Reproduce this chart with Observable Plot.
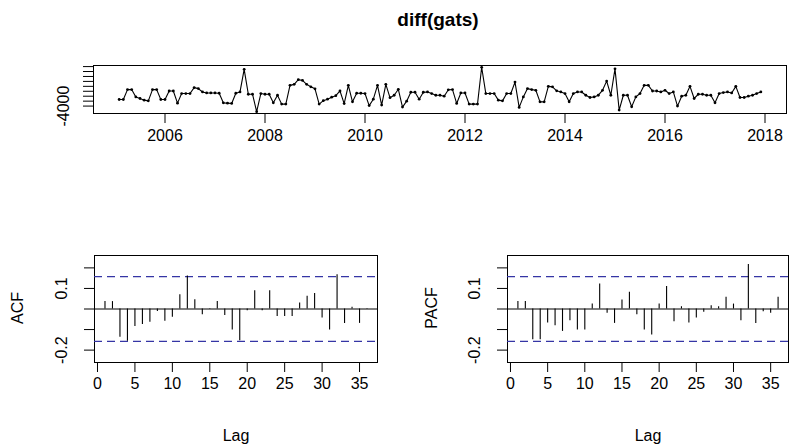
<!DOCTYPE html>
<html><head><meta charset="utf-8">
<script src="https://cdn.jsdelivr.net/npm/d3@7"></script>
<script src="https://cdn.jsdelivr.net/npm/@observablehq/plot@0.6"></script>
<style>
body{margin:0;background:#fff;}
#wrap{position:relative;width:789px;height:448px;overflow:hidden;font-family:"Liberation Sans",Arial,sans-serif;color:#000;}
#wrap > svg, #wrap > figure{position:absolute;margin:0;}
.lbl{position:absolute;font-size:16px;white-space:nowrap;line-height:1;}
</style></head><body><div id="wrap"></div>
<script>
// ---- data ----
const title = "diff(gats)";
const startYear = 2005, startMonth = 2; // monthly differenced series
const diffValues = [
 -1320,-1320,2680,2680,-280,-920,-1600,-1880,2680,2680,-1320,-1320,
 2120,2120,-2800,1080,1080,1080,3480,3080,1720,1320,1320,1320,
 1200,-2680,-2800,-2920,1200,1720,10880,800,800,-6280,1080,800,
 800,-2680,400,-3200,-3200,4400,4800,6680,6400,4800,3800,3000,
 -3200,-1800,-1200,-400,200,2120,-3000,4400,-2280,1200,1200,1080,
 -3800,-1200,4400,-3600,4800,-600,400,2800,-4400,-2000,1600,1600,
 -1200,1600,1720,1080,400,400,0,2600,2680,-2920,1320,1320,
 -3200,-3200,-3200,11720,1080,1080,1080,-1600,-1880,1080,1080,5720,
 -4520,-280,3080,2680,2400,-2280,-2280,4000,3800,2200,1720,1080,
 -2280,1080,1720,1720,400,-520,-280,400,2400,6120,400,11080,
 -5600,400,400,-4280,-280,1080,4400,4400,2120,2120,1720,2400,
 1080,1720,-4000,0,400,4000,-920,800,800,400,400,-2680,
 1080,1480,1720,1320,4000,-520,-520,0,400,1080,1720
];
const yearTicks = [2006, 2008, 2010, 2012, 2014, 2016, 2018];
const valueTicks = [-4000, -2000, 0, 2000, 4000, 6000, 8000, 10000, 12000];
const valueTickLabels = [-4000];

const lags = d3.range(1, 37);
const acfValues = [
 0.036,0.036,-0.137,-0.157,-0.085,-0.075,-0.064,-0.012,-0.059,-0.040,
 0.069,0.160,0.045,-0.028,-0.003,0.036,-0.032,-0.102,-0.154,-0.008,
 0.089,-0.008,0.089,-0.037,-0.037,-0.037,0.029,0.062,0.076,-0.044,
 -0.102,0.167,-0.070,0.008,-0.070,0.002
];
const pacfValues = [
 0.036,0.036,-0.149,-0.149,-0.068,-0.081,-0.109,-0.057,-0.102,-0.102,
 0.024,0.122,-0.021,-0.070,0.044,0.081,-0.028,-0.102,-0.127,0.024,
 0.109,-0.062,0.011,-0.068,-0.044,-0.016,0.016,0.011,0.057,0.024,
 -0.057,0.216,-0.070,-0.013,-0.021,0.057
];
const lagTicks = [0, 5, 10, 15, 20, 25, 30, 35];
const corrTicks = [-0.2, -0.1, 0, 0.1, 0.2];
const corrTickLabels = [0.1, -0.2];
const nObs = diffValues.length;

// ---- helpers ----
const FONT = '"Liberation Sans", Arial, sans-serif';
const wrap = document.getElementById("wrap");
function place(el, left, top) {
  el.style.position = "absolute"; el.style.left = left + "px"; el.style.top = top + "px";
  wrap.appendChild(el);
}
function label(text, cx, cy, opts = {}) {
  const d = document.createElement("div");
  d.className = "lbl"; d.textContent = text;
  if (opts.size) d.style.fontSize = opts.size + "px";
  if (opts.bold) d.style.fontWeight = "bold";
  d.style.left = cx + "px"; d.style.top = cy + "px";
  d.style.transform = "translate(-50%,-50%)" + (opts.rotate ? " rotate(" + opts.rotate + "deg)" : "");
  wrap.appendChild(d);
}
const styleBase = {fontFamily: FONT, fontSize: "16px", color: "#000", background: "transparent", overflow: "visible"};
const fmtNum = d => String(d);

// ---- top: time series ----
const series = diffValues.map((v, i) => ({t: startYear + (startMonth - 1 + i) / 12, v}));
const tExt = d3.extent(series, d => d.t), tPad = 0.04 * (tExt[1] - tExt[0]);
const vExt = d3.extent(series, d => d.v), vPad = 0.04 * (vExt[1] - vExt[0]);
const topPlot = Plot.plot({
  width: 789, height: 150,
  marginLeft: 93, marginRight: 3, marginTop: 65, marginBottom: 37,
  x: {domain: [tExt[0] - tPad, tExt[1] + tPad]},
  y: {domain: [vExt[0] - vPad, vExt[1] + vPad]},
  style: styleBase,
  marks: [
    Plot.frame({stroke: "black"}),
    Plot.axisX({ticks: yearTicks, tickFormat: fmtNum, tickSize: 10, tickPadding: 6, label: null}),
    Plot.axisY({ticks: valueTicks, tickFormat: d => valueTickLabels.includes(d) ? fmtNum(d) : "",
      tickSize: 10, tickPadding: 15, tickRotate: -90, label: null}),
    Plot.line(series, {x: "t", y: "v", stroke: "black", strokeWidth: 1.1}),
    Plot.dot(series, {x: "t", y: "v", r: 1.4, fill: "black", stroke: "none"})
  ]
});
place(topPlot, 0, 0);
label(title, 438, 19, {size: 19, bold: true});

// ---- correlogram panels ----
const ci = 1.96 / Math.sqrt(nObs);
const lim = 3 / Math.sqrt(nObs);
const corrDomain = [-lim - 0.08 * lim, lim + 0.08 * lim];
const lagDomain = [1 - 0.04 * 35, 36 + 0.04 * 35];
function corrPanel(values, width, marginRight) {
  const data = lags.map((l, i) => ({lag: l, r: values[i]}));
  return Plot.plot({
    width, height: 208,
    marginLeft: 94, marginRight, marginTop: 15, marginBottom: 86,
    x: {domain: lagDomain},
    y: {domain: corrDomain},
    style: styleBase,
    marks: [
      Plot.frame({stroke: "black"}),
      Plot.axisX({ticks: lagTicks, tickFormat: fmtNum, tickSize: 10, tickPadding: 5, label: null}),
      Plot.axisY({ticks: corrTicks, tickFormat: d => corrTickLabels.includes(d) ? fmtNum(d) : "",
        tickSize: 10, tickPadding: 18, tickRotate: -90, label: null}),
      Plot.ruleY([0], {stroke: "black"}),
      Plot.ruleY([ci, -ci], {stroke: "#3535a5", strokeDasharray: "8,5", strokeWidth: 1.2}),
      Plot.ruleX(data, {x: "lag", y1: 0, y2: "r", stroke: "black", strokeWidth: 1.1})
    ]
  });
}
place(corrPanel(acfValues, 394, 17), 0, 240);
place(corrPanel(pacfValues, 376, 1), 413, 240);
label("ACF", 18, 308, {rotate: -90});
label("PACF", 432, 308, {rotate: -90});
label("Lag", 236, 436);
label("Lag", 648, 436);
</script></body></html>
